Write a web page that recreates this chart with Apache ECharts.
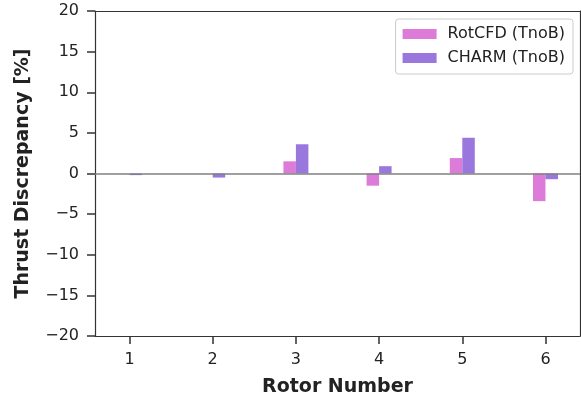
<!DOCTYPE html>
<html>
<head>
<meta charset="utf-8">
<script src="https://cdn.jsdelivr.net/npm/echarts@6/dist/echarts.min.js"></script>
<style>
  html, body { margin: 0; padding: 0; background: #fff; }
  #chart { width: 581px; height: 402px; }
</style>
</head>
<body>
<div id="chart"></div>
<script>
// Rotor numbers and thrust discrepancy (%) for each code
const rotors = [1, 2, 3, 4, 5, 6];
const rotcfd = [0.0, 0.0, 1.5, -1.5, 1.9, -3.4];
const charm = [-0.2, -0.5, 3.6, 0.9, 4.4, -0.7];

const FONT = 'DejaVu Sans';
const INK = '#222';
const SPINE = '#333';
const X_MIN = 0.585, X_MAX = 6.415;

const pairs = (vals) => rotors.map((r, i) => [r, vals[i]]);

// Plain spine used for the top and right edges of the frame
const frameAxis = (position, min, max) => ({
  type: 'value', position, min, max,
  axisLine: { show: true, onZero: false, lineStyle: { color: SPINE, width: 1.2 } },
  axisTick: { show: false },
  axisLabel: { show: false },
  splitLine: { show: false }
});

const chart = echarts.init(document.getElementById('chart'), null, { renderer: 'canvas' });
chart.setOption({
  animation: false,
  backgroundColor: '#fff',
  grid: { left: 95, right: 1, top: 11, bottom: 60 },
  legend: {
    orient: 'vertical',
    right: 8, top: 19,
    padding: [7, 8, 8, 7],
    itemWidth: 34, itemHeight: 10, itemGap: 8,
    icon: 'rect',
    borderColor: '#ccc', borderWidth: 1, borderRadius: 3,
    textStyle: { fontFamily: FONT, fontSize: 16, color: INK, padding: [0, 0, 0, 6] },
    data: ['RotCFD (TnoB)', 'CHARM (TnoB)']
  },
  xAxis: [{
    type: 'value',
    min: X_MIN, max: X_MAX,
    name: 'Rotor Number',
    nameLocation: 'middle',
    nameGap: 42,
    nameTextStyle: { fontFamily: FONT, fontSize: 19, fontWeight: 'bold', color: INK },
    axisLine: { show: true, onZero: false, lineStyle: { color: SPINE, width: 1.2 } },
    axisTick: { show: true, length: 8, customValues: rotors, lineStyle: { color: SPINE, width: 1.5 } },
    axisLabel: { show: true, customValues: rotors, margin: 16, fontFamily: FONT, fontSize: 16, color: INK },
    splitLine: { show: false }
  }, frameAxis('top', X_MIN, X_MAX)],
  yAxis: [{
    type: 'value',
    min: -20, max: 20, interval: 5,
    name: 'Thrust Discrepancy [%]',
    nameLocation: 'middle',
    nameGap: 62,
    nameTextStyle: { fontFamily: FONT, fontSize: 19, fontWeight: 'bold', color: INK },
    axisLine: { show: true, onZero: false, lineStyle: { color: SPINE, width: 1.2 } },
    axisTick: { show: true, length: 8, lineStyle: { color: SPINE, width: 1.5 } },
    axisLabel: {
      margin: 16, fontFamily: FONT, fontSize: 16, color: INK,
      formatter: (v) => (v < 0 ? '\u2212' + Math.abs(v) : String(v))
    },
    splitLine: { show: false }
  }, frameAxis('right', -20, 20)],
  series: [
    {
      name: 'RotCFD (TnoB)',
      type: 'bar',
      data: pairs(rotcfd),
      barWidth: 12.5,
      barGap: '0%',
      itemStyle: { color: 'rgba(218,112,214,0.92)' },
      markLine: {
        silent: true,
        symbol: 'none',
        label: { show: false },
        lineStyle: { color: '#808080', width: 1.5, type: 'solid' },
        data: [{ yAxis: 0 }]
      }
    },
    {
      name: 'CHARM (TnoB)',
      type: 'bar',
      data: pairs(charm),
      barWidth: 12.5,
      barGap: '0%',
      itemStyle: { color: 'rgba(147,112,219,0.95)' }
    }
  ]
});
</script>
</body>
</html>
